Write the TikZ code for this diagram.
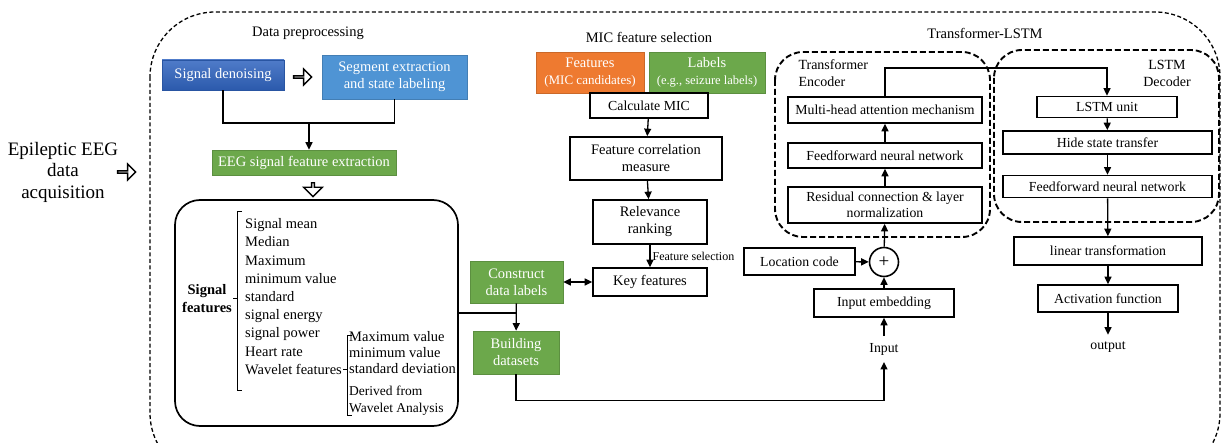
\documentclass[tikz,border=0pt]{standalone}
\usepackage{fontspec}
\setmainfont{Liberation Serif}
\usetikzlibrary{arrows.meta,positioning,calc,shapes.arrows}
\definecolor{EegBlue}{HTML}{3064BF}
\definecolor{EegSky}{HTML}{4F94D4}
\definecolor{EegGreen}{HTML}{6CA84B}
\definecolor{EegOrange}{HTML}{EE7A30}

\begin{document}
\begin{tikzpicture}[x=1pt,y=-1pt,>={Triangle[length=7.5pt,width=7pt]},
    every node/.style={font=\fontsize{14.5}{17}\selectfont}]
    \tikzset{proc/.style={draw,line width=1.7pt,align=center,inner sep=1pt,
        font=\fontsize{13.8}{16}\selectfont},
      tint/.style={fill=#1,draw=#1!85!black,line width=0.6pt,text=white,align=center,inner sep=1pt},
      hollow/.style={single arrow,draw,line width=1.4pt,fill=white,inner sep=0pt,
        minimum height=18pt,minimum width=16pt,single arrow head extend=4pt},
      hollowdown/.style={hollow,shape border rotate=270,minimum height=14pt,minimum width=19pt},
      link/.style={line width=1.3pt,->},
      groupline/.style={line width=1.9pt,dash pattern=on 6pt off 3pt,rounded corners=28pt},
      small/.style={font=\fontsize{12}{14}\selectfont}}
    \useasboundingbox (0,0) rectangle (1222,443);
    % outer frame
    \draw[line width=1.3pt,dash pattern=on 4pt off 2.5pt,rounded corners=65pt] (150,12) rectangle (1220,478);
    \node[align=center,font=\fontsize{19}{21.5}\selectfont] (acq) at (63,172) {Epileptic EEG\\data\\acquisition};
    \node[hollow] (h0) at (126,172) {};
    \node (t1) at (308,33) {Data preprocessing};
    \node (t2) at (649,37) {MIC feature selection};
    \node (t3) at (985,33) {Transformer-LSTM};

    % preprocessing
    \node[tint=EegBlue,minimum width=122,minimum height=30,top color=EegBlue!85!white,bottom color=EegBlue!90!black] (sd) at (223,75) {Signal denoising};
    \node[hollow] (h1) at (302,77) {};
    \node[tint=EegSky,minimum width=145,minimum height=44] (seg) at (394.5,77) {Segment extraction\\and state labeling};
    \node[tint=EegGreen,minimum width=184,minimum height=25] (fe) at (304,162.5) {EEG signal feature extraction};
    \node[hollowdown] (h2) at (313,189) {};
    \coordinate (j) at (309,123);
    \draw[line width=1.3pt] (sd.south) |- (j) -| (seg.south);
    \draw[link] (j) -- (j |- fe.north);

    % signal features
    \node[draw,line width=1.7pt,rounded corners=25pt,minimum width=283,minimum height=226] (sf) at (316.5,313) {};
    \node[font=\bfseries\fontsize{14.5}{18}\selectfont,align=center] (sft) at (207,299) {Signal\\features};
    \node[align=left,anchor=north west,inner sep=0pt,font=\fontsize{14.5}{18.2}\selectfont] (sfl) at (245,218.5)
      {Signal mean\\Median\\Maximum\\minimum value\\standard\\signal energy\\signal power\\Heart rate\\Wavelet features};
    \node[align=left,anchor=north west,inner sep=0pt,font=\fontsize{14.5}{16}\selectfont] (wl1) at (349,331.5)
      {Maximum value\\minimum value\\standard deviation};
    \node[align=left,anchor=north west,inner sep=0pt,font=\fontsize{13.5}{17}\selectfont] (wl2) at (349,385.5)
      {Derived from\\Wavelet Analysis};
    \draw[line width=1pt] (242,212) -- (237,212) -- (237,390) -- (242,390) (237,299) -- (233,299);
    \draw[line width=1pt] (352,335) -- (347,335) -- (347,415) -- (352,415) (347,369) -- (343,369);

    % MIC selection
    \node[tint=EegOrange,minimum width=108,minimum height=41] (fc) at (590,72.5)
      {Features\\{\fontsize{13}{15}\selectfont (MIC candidates)}};
    \node[tint=EegGreen,minimum width=116,minimum height=41] (lb) at (707,72.5)
      {Labels\\{\fontsize{12.5}{15}\selectfont (e.g., seizure labels)}};
    \node[proc,minimum width=118,minimum height=25] (cm) at (649,105.5) {Calculate MIC};
    \node[proc,minimum width=152,minimum height=43,font=\fontsize{14.5}{17}\selectfont] (fcm) at (646,158.5) {Feature correlation\\measure};
    \node[proc,minimum width=114,minimum height=44,font=\fontsize{14.5}{17}\selectfont] (rr) at (650,222) {Relevance\\ranking};
    \node[proc,minimum width=114,minimum height=28,font=\fontsize{14.5}{17}\selectfont] (kf) at (650,282) {Key features};
    \node[tint=EegGreen,minimum width=93,minimum height=42] (cdl) at (516.5,282) {Construct\\data labels};
    \node[tint=EegGreen,minimum width=86,minimum height=43] (bd) at (516,352.5) {Building\\datasets};
    \draw[link] (rr) -- node[right,small,inner sep=2pt] {Feature selection} (kf);
    \draw[line width=1.3pt,<->] (cdl) -- (kf);
    \draw[line width=1.3pt] (sf.east) -- (sf.east -| cdl.south);

    % Transformer-LSTM
    \draw[groupline] (775,52) rectangle (990,237);
    \draw[groupline] (994,50) rectangle (1219,222);
    \node[align=left,anchor=west,font=\fontsize{14}{17}\selectfont] (enc) at (795,73.5) {Transformer\\Encoder};
    \node[align=center,font=\fontsize{14}{17}\selectfont] (dec) at (1167,73.5) {LSTM\\Decoder};
    \node[proc,minimum width=194,minimum height=26] (mha) at (885,110) {Multi-head attention mechanism};
    \node[proc,minimum width=194,minimum height=25] (ffe) at (885,155.5) {Feedforward neural network};
    \node[proc,minimum width=194,minimum height=36] (res) at (885,205) {Residual connection \& layer\\normalization};
    \node[draw,circle,line width=1.6pt,minimum size=29,inner sep=0pt,font=\fontsize{19}{19}\selectfont] (pl) at (884,262) {+};
    \node[proc,minimum width=111,minimum height=27] (lc) at (799.5,261.5) {Location code};
    \node[proc,minimum width=140,minimum height=28] (ie) at (884,303) {Input embedding};
    \node[inner sep=0pt,outer ysep=7pt,font=\fontsize{13.8}{16}\selectfont] (inp) at (884,349) {Input};
    \node[proc,minimum width=140,minimum height=21] (lu) at (1107,107) {LSTM unit};
    \node[proc,minimum width=209,minimum height=23] (hs) at (1107.5,142.5) {Hide state transfer};
    \node[proc,minimum width=209,minimum height=22] (ffd) at (1107.5,186.5) {Feedforward neural network};
    \node[proc,minimum width=188,minimum height=28] (lt) at (1108,251) {linear transformation};
    \node[proc,minimum width=140,minimum height=27] (af) at (1108,298.5) {Activation function};
    \node[inner sep=0pt,outer ysep=7pt,font=\fontsize{13.8}{16}\selectfont] (out) at (1108,347) {output};

    \foreach \a/\b in {res/ffe,ffe/mha,ie/pl,pl/res,lc/pl,inp/ie,lu/hs,hs/ffd,ffd/lt,lt/af,af/out,cm/fcm,fcm/rr,cdl/bd}
      {\draw[link] (\a) -- (\b);}
    \draw[link] (mha.north) -- ++(0,-28) -| (lu.north);
    \draw[link] (bd.south) -- ++(0,26) -| (inp.south);
\end{tikzpicture}
\end{document}
